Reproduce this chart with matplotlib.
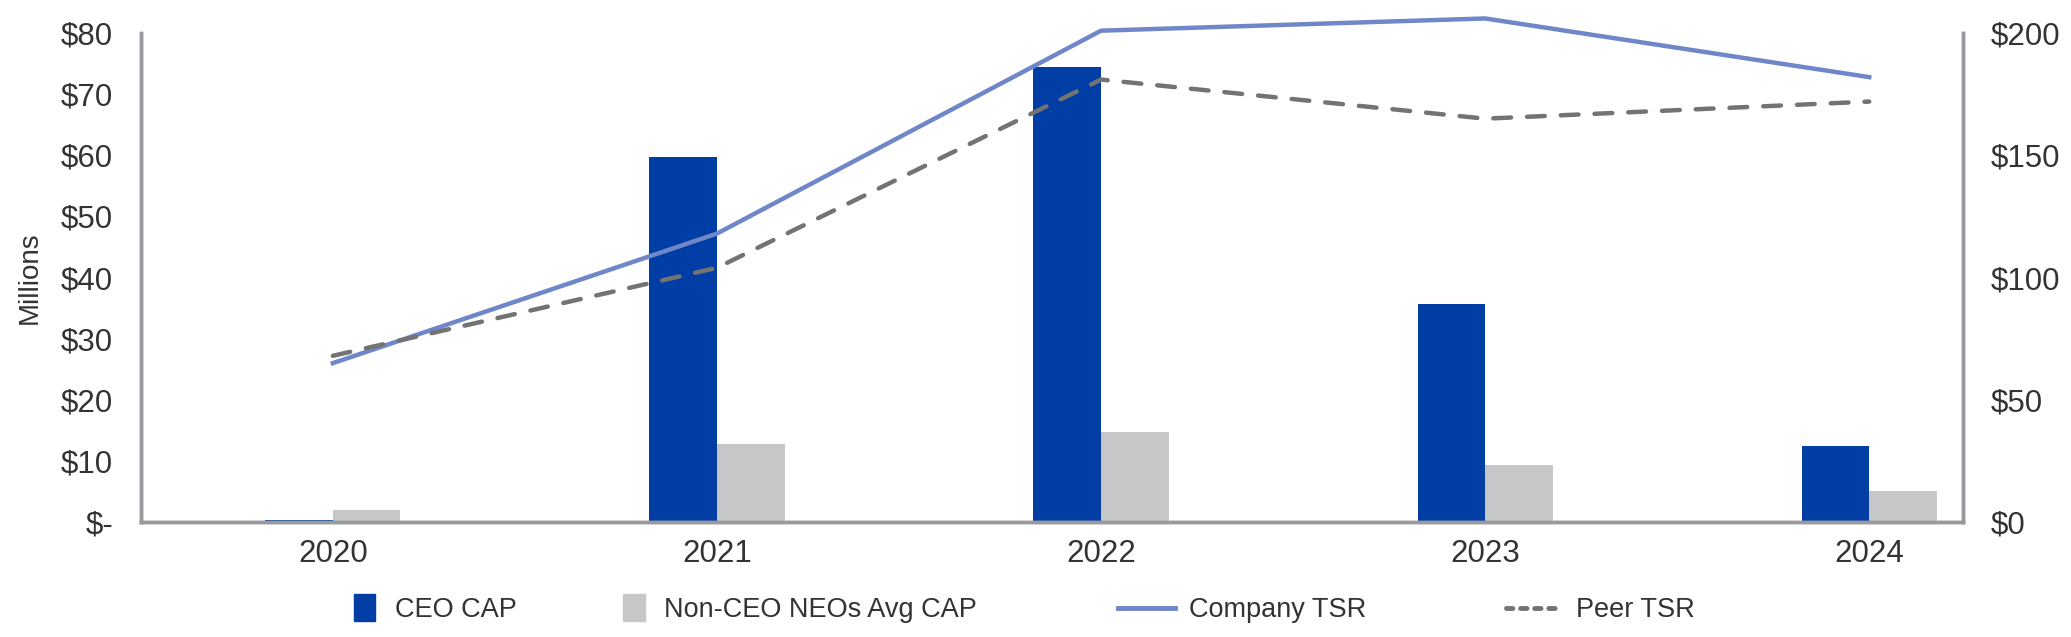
import matplotlib
matplotlib.use('Agg')
import matplotlib.pyplot as plt
import numpy as np
from matplotlib.lines import Line2D
from matplotlib.patches import Patch, Rectangle
from matplotlib.legend_handler import HandlerPatch

years = ['2020', '2021', '2022', '2023', '2024']
ceo_cap = [0.4, 59.8, 74.5, 35.6, 12.4]
neo_avg_cap = [1.9, 12.8, 14.7, 9.4, 5.1]
company_tsr = [65, 118, 201, 206, 182]
peer_tsr = [68, 104, 181, 165, 172]

plt.rcParams['font.family'] = ['Liberation Sans', 'DejaVu Sans']
txt = '#333333'
spine = '#9a9a9e'
dash = (0, (4, 3.6))


class NarrowPatch(HandlerPatch):
    # legend boxes are tall and narrow in the original
    def create_artists(self, legend, orig, xd, yd, width, height, fontsize, trans):
        h = height * 1.4
        r = Rectangle((-xd, -yd - (h - height) / 2), h * 0.8, h,
                      color=orig.get_facecolor(), transform=trans)
        return [r]


fig = plt.figure(figsize=(20.71, 6.37), dpi=100)
ax = fig.add_axes([0.068, 0.1805, 0.88, 0.7675])
ax2 = ax.twinx()

x = np.arange(len(years))
w = 0.176
ax.bar(x - w/2, ceo_cap, w, color='#003da5', zorder=2)
ax.bar(x + w/2, neo_avg_cap, w, color='#c6c7c8', zorder=2)

ax2.plot(x, company_tsr, color='#6f86c8', lw=3.2, clip_on=False, zorder=3)
ax2.plot(x, peer_tsr, color='#737373', lw=3.2, ls=dash,
         dash_capstyle='round', clip_on=False, zorder=3)

ax.set_xlim(-0.5, 4.245)
ax.set_ylim(0, 80)
ax2.set_ylim(0, 200)
ax.set_yticks(range(0, 81, 10))
ax.set_yticklabels(['$-'] + ['$%d' % v for v in range(10, 81, 10)])
ax2.set_yticks(range(0, 201, 50))
ax2.set_yticklabels(['$%d' % v for v in range(0, 201, 50)])
ax.set_xticks(x)
ax.set_xticklabels(years)

for a in (ax, ax2):
    a.spines['top'].set_visible(False)
    for s in ('left', 'right', 'bottom'):
        a.spines[s].set_color(spine)
        a.spines[s].set_linewidth(2.5)
    a.tick_params(length=0, labelsize=22.5, colors=txt)
ax.tick_params(axis='y', pad=20)
ax.tick_params(axis='x', pad=12)
ax2.tick_params(axis='y', pad=20)
ax.set_ylabel('Millions', fontsize=20, color=txt, labelpad=13)

# legend entries are spaced unevenly in the original, so place each one
handles = [Patch(color='#003da5'), Patch(color='#c6c7c8'),
           Line2D([], [], color='#6f86c8', lw=3.5),
           Line2D([], [], color='#737373', lw=3.5, ls=(0, (1.3, 1.6)), dash_capstyle='round')]
labels = ['CEO CAP', 'Non-CEO NEOs Avg CAP', 'Company TSR', 'Peer TSR']
leg_x = [0.171, 0.301, 0.540, 0.727]
hlen = [1.0, 1.0, 2.1, 2.1]
for h, l, lx, hl in zip(handles, labels, leg_x, hlen):
    fig.legend([h], [l], loc='center left', bbox_to_anchor=(lx, 0.042),
               frameon=False, fontsize=19.5, labelcolor=txt,
               borderpad=0, borderaxespad=0, handlelength=hl, handletextpad=0.5,
               handler_map={Patch: NarrowPatch()})

fig.savefig('out.png', dpi=100)
